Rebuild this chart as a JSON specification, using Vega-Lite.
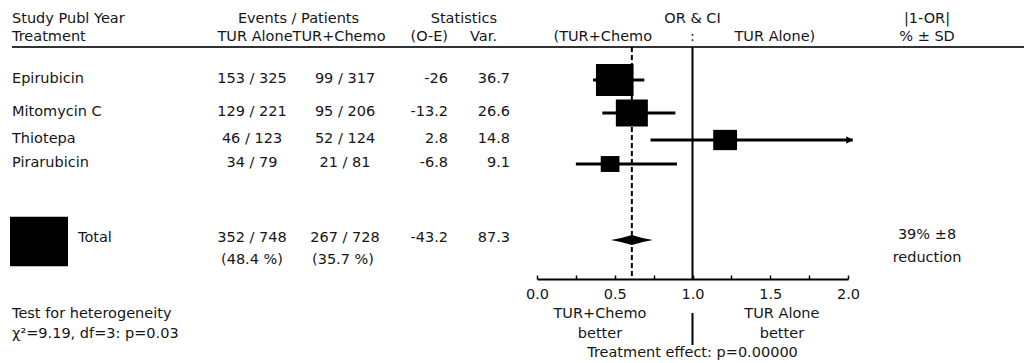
{
  "$schema": "https://vega.github.io/schema/vega-lite/v6.json",
  "width": 1024,
  "height": 363,
  "padding": 0,
  "autosize": {"type": "none"},
  "background": "#ffffff",
  "config": {
    "view": {"stroke": null},
    "text": {"font": "DejaVu Sans", "fontSize": 14.5, "fill": "#151515", "baseline": "middle"}
  },
  "data": {"values": [{}]},
  "datasets": {
    "studies": [
      {"row": 3, "study": "Epirubicin", "tur_alone": "153 / 325", "tur_chemo": "99 / 317", "oe": "-26", "var": 36.7, "or": 0.50, "lo": 0.36, "hi": 0.69},
      {"row": 4, "study": "Mitomycin C", "tur_alone": "129 / 221", "tur_chemo": "95 / 206", "oe": "-13.2", "var": 26.6, "or": 0.61, "lo": 0.42, "hi": 0.89},
      {"row": 5, "study": "Thiotepa", "tur_alone": "46 / 123", "tur_chemo": "52 / 124", "oe": "2.8", "var": 14.8, "or": 1.21, "lo": 0.73, "hi": 2.03},
      {"row": 6, "study": "Pirarubicin", "tur_alone": "34 / 79", "tur_chemo": "21 / 81", "oe": "-6.8", "var": 9.1, "or": 0.47, "lo": 0.25, "hi": 0.90}
    ],
    "total": [
      {"row": 7, "study": "Total", "tur_alone": "352 / 748", "tur_chemo": "267 / 728", "pct_alone": "(48.4 %)", "pct_chemo": "(35.7 %)", "oe": "-43.2", "var": 87.3, "or": 0.61, "lo": 0.49, "hi": 0.76, "reduction": "39% ±8"}
    ]
  },
  "resolve": {"scale": {"x": "independent"}},
  "layer": [
    {
      "layer": [
        {"data": {"name": "studies"}, "mark": {"type": "text", "align": "left", "dy": -1},
         "encoding": {"x": {"datum": 0, "scale": {"type": "linear", "domain": [0,1,2,3,4,5,6], "range": [12,252,345,448,510,927,1024], "zero": false, "nice": false}, "axis": null},
                      "y": {"field": "row", "type": "quantitative", "scale": {"type": "linear", "domain": [0,1,2,3,4,5,6,7,8,9,10,11,12,13], "range": [19,37,47,80,113,140,164,240,260,279,293,314,334,353], "zero": false, "nice": false}, "axis": null},
                      "text": {"field": "study", "type": "nominal"}}},
        {"data": {"name": "studies"}, "mark": {"type": "text", "align": "center", "dy": -1},
         "encoding": {"x": {"datum": 1, "axis": null}, "y": {"field": "row", "type": "quantitative", "axis": null}, "text": {"field": "tur_alone", "type": "nominal"}}},
        {"data": {"name": "studies"}, "mark": {"type": "text", "align": "center", "dy": -1},
         "encoding": {"x": {"datum": 2, "axis": null}, "y": {"field": "row", "type": "quantitative", "axis": null}, "text": {"field": "tur_chemo", "type": "nominal"}}},
        {"data": {"name": "studies"}, "mark": {"type": "text", "align": "right", "dy": -1},
         "encoding": {"x": {"datum": 3, "axis": null}, "y": {"field": "row", "type": "quantitative", "axis": null}, "text": {"field": "oe", "type": "nominal"}}},
        {"data": {"name": "studies"}, "mark": {"type": "text", "align": "right", "dy": -1},
         "encoding": {"x": {"datum": 4, "axis": null}, "y": {"field": "row", "type": "quantitative", "axis": null}, "text": {"field": "var", "type": "nominal"}}},

        {"data": {"name": "total"}, "mark": {"type": "point", "filled": true, "opacity": 1, "color": "#000000", "shape": "M-1,-0.85L1,-0.85L1,0.85L-1,0.85Z", "xOffset": 27, "yOffset": 1.5},
         "encoding": {"x": {"datum": 0, "axis": null}, "y": {"field": "row", "type": "quantitative", "axis": null},
                      "size": {"field": "var", "type": "quantitative", "scale": {"type": "linear", "domain": [0, 100], "range": [0, 3850], "zero": true}, "legend": null}}},
        {"data": {"name": "total"}, "mark": {"type": "text", "align": "left", "dx": 66, "dy": -2},
         "encoding": {"x": {"datum": 0, "axis": null}, "y": {"field": "row", "type": "quantitative", "axis": null}, "text": {"field": "study", "type": "nominal"}}},
        {"data": {"name": "total"}, "mark": {"type": "text", "align": "center", "dy": -2},
         "encoding": {"x": {"datum": 1, "axis": null}, "y": {"field": "row", "type": "quantitative", "axis": null}, "text": {"field": "tur_alone", "type": "nominal"}}},
        {"data": {"name": "total"}, "mark": {"type": "text", "align": "center", "dy": -2},
         "encoding": {"x": {"datum": 2, "axis": null}, "y": {"field": "row", "type": "quantitative", "axis": null}, "text": {"field": "tur_chemo", "type": "nominal"}}},
        {"data": {"name": "total"}, "mark": {"type": "text", "align": "right", "dy": -2},
         "encoding": {"x": {"datum": 3, "axis": null}, "y": {"field": "row", "type": "quantitative", "axis": null}, "text": {"field": "oe", "type": "nominal"}}},
        {"data": {"name": "total"}, "mark": {"type": "text", "align": "right", "dy": -2},
         "encoding": {"x": {"datum": 4, "axis": null}, "y": {"field": "row", "type": "quantitative", "axis": null}, "text": {"field": "var", "type": "nominal"}}},
        {"data": {"name": "total"}, "mark": {"type": "text", "align": "center"},
         "encoding": {"x": {"datum": 1, "axis": null}, "y": {"datum": 8, "axis": null}, "text": {"field": "pct_alone", "type": "nominal"}}},
        {"data": {"name": "total"}, "mark": {"type": "text", "align": "center", "dx": -2},
         "encoding": {"x": {"datum": 2, "axis": null}, "y": {"datum": 8, "axis": null}, "text": {"field": "pct_chemo", "type": "nominal"}}},
        {"data": {"name": "total"}, "mark": {"type": "text", "align": "center", "dy": -5},
         "encoding": {"x": {"datum": 5, "axis": null}, "y": {"field": "row", "type": "quantitative", "axis": null}, "text": {"field": "reduction", "type": "nominal"}}},
        {"mark": {"type": "text", "align": "center", "dy": -2, "text": "reduction"},
         "encoding": {"x": {"datum": 5, "axis": null}, "y": {"datum": 8, "axis": null}}},

        {"mark": {"type": "text", "align": "left", "text": "Study Publ Year"},
         "encoding": {"x": {"datum": 0, "axis": null}, "y": {"datum": 0, "axis": null}}},
        {"mark": {"type": "text", "align": "left", "text": "Treatment"},
         "encoding": {"x": {"datum": 0, "axis": null}, "y": {"datum": 1, "axis": null}}},
        {"mark": {"type": "text", "align": "center", "text": "Events / Patients"},
         "encoding": {"x": {"datum": 1.5, "axis": null}, "y": {"datum": 0, "axis": null}}},
        {"mark": {"type": "text", "align": "center", "dx": 3, "text": "TUR AloneTUR+Chemo"},
         "encoding": {"x": {"datum": 1.5, "axis": null}, "y": {"datum": 1, "axis": null}}},
        {"mark": {"type": "text", "align": "right", "dx": -13, "text": "Statistics"},
         "encoding": {"x": {"datum": 4, "axis": null}, "y": {"datum": 0, "axis": null}}},
        {"mark": {"type": "text", "align": "right", "text": "(O-E)"},
         "encoding": {"x": {"datum": 3, "axis": null}, "y": {"datum": 1, "axis": null}}},
        {"mark": {"type": "text", "align": "right", "dx": -13, "text": "Var."},
         "encoding": {"x": {"datum": 4, "axis": null}, "y": {"datum": 1, "axis": null}}},
        {"mark": {"type": "text", "align": "center", "text": "|1-OR|"},
         "encoding": {"x": {"datum": 5, "axis": null}, "y": {"datum": 0, "axis": null}}},
        {"mark": {"type": "text", "align": "center", "text": "% ± SD"},
         "encoding": {"x": {"datum": 5, "axis": null}, "y": {"datum": 1, "axis": null}}},
        {"mark": {"type": "rule", "color": "#333333", "strokeWidth": 1.8},
         "encoding": {"x": {"datum": 0, "axis": null}, "x2": {"datum": 6}, "y": {"datum": 2, "axis": null}}},
        {"mark": {"type": "text", "align": "left", "text": "Test for heterogeneity"},
         "encoding": {"x": {"datum": 0, "axis": null}, "y": {"datum": 11, "axis": null}}},
        {"mark": {"type": "text", "align": "left", "text": "χ²=9.19, df=3: p=0.03"},
         "encoding": {"x": {"datum": 0, "axis": null}, "y": {"datum": 12, "axis": null}}}
      ]
    },
    {
      "layer": [
        {"data": {"name": "studies"}, "mark": {"type": "rule", "color": "#000000", "strokeWidth": 3},
         "encoding": {"x": {"field": "lo", "type": "quantitative", "title": null,
                            "scale": {"type": "linear", "domain": [0, 2], "range": [537, 848], "zero": false, "nice": false},
                            "axis": {"values": [0, 0.25, 0.5, 0.75, 1, 1.25, 1.5, 1.75, 2], "labelExpr": "datum.value % 0.5 === 0 ? format(datum.value, '.1f') : ''",
                                     "offset": -84, "domainColor": "#000000", "domainWidth": 2, "tickColor": "#000000", "tickWidth": 1.5, "tickSize": -4,
                                     "labelPadding": 12, "labelFont": "DejaVu Sans", "labelFontSize": 14.5, "labelColor": "#151515", "grid": false, "title": null,
                                     "labelFlush": false, "labelOverlap": false}},
                      "x2": {"field": "hi"},
                      "y": {"field": "row", "type": "quantitative", "axis": null}}},
        {"mark": {"type": "rule", "color": "#000000", "strokeWidth": 2},
         "encoding": {"x": {"datum": 1, "title": null}, "y": {"datum": 2, "axis": null}, "y2": {"datum": 9}}},
        {"data": {"name": "total"}, "mark": {"type": "rule", "color": "#000000", "strokeWidth": 2, "strokeDash": [5, 3]},
         "encoding": {"x": {"field": "or", "type": "quantitative", "title": null}, "y": {"datum": 2, "axis": null}, "y2": {"datum": 9}}},
        {"data": {"name": "studies"}, "mark": {"type": "point", "filled": true, "opacity": 1, "color": "#000000", "shape": "M-1,-0.85L1,-0.85L1,0.85L-1,0.85Z"},
         "encoding": {"x": {"field": "or", "type": "quantitative", "title": null}, "y": {"field": "row", "type": "quantitative", "axis": null},
                      "size": {"field": "var", "type": "quantitative", "scale": {"type": "linear", "domain": [0, 100], "range": [0, 3850], "zero": true}, "legend": null}}},
        {"data": {"name": "studies"}, "transform": [{"filter": "datum.hi > 2"}],
         "mark": {"type": "point", "filled": true, "opacity": 1, "color": "#000000", "shape": "triangle-right", "size": 60, "xOffset": -3},
         "encoding": {"x": {"field": "hi", "type": "quantitative", "title": null}, "y": {"field": "row", "type": "quantitative", "axis": null}}},
        {"data": {"name": "total"}, "mark": {"type": "point", "filled": true, "opacity": 1, "color": "#000000", "size": 1764,
                                             "shape": "M-1,0Q-0.45,-0.09,0,-0.24Q0.45,-0.09,1,0Q0.45,0.09,0,0.24Q-0.45,0.09,-1,0Z"},
         "encoding": {"x": {"field": "or", "type": "quantitative", "title": null}, "y": {"field": "row", "type": "quantitative", "axis": null}}},
        {"mark": {"type": "text", "align": "center", "text": "OR & CI"},
         "encoding": {"x": {"datum": 1, "title": null}, "y": {"datum": 0, "axis": null}}},
        {"mark": {"type": "text", "align": "right", "text": "(TUR+Chemo"},
         "encoding": {"x": {"datum": 0.74, "title": null}, "y": {"datum": 1, "axis": null}}},
        {"mark": {"type": "text", "align": "center", "text": ":"},
         "encoding": {"x": {"datum": 1, "title": null}, "y": {"datum": 1, "axis": null}}},
        {"mark": {"type": "text", "align": "left", "text": "TUR Alone)"},
         "encoding": {"x": {"datum": 1.27, "title": null}, "y": {"datum": 1, "axis": null}}},
        {"mark": {"type": "text", "align": "center", "text": "TUR+Chemo"},
         "encoding": {"x": {"datum": 0.405, "title": null}, "y": {"datum": 11, "axis": null}}},
        {"mark": {"type": "text", "align": "center", "text": "better"},
         "encoding": {"x": {"datum": 0.405, "title": null}, "y": {"datum": 12, "axis": null}}},
        {"mark": {"type": "text", "align": "center", "text": "TUR Alone"},
         "encoding": {"x": {"datum": 1.575, "title": null}, "y": {"datum": 11, "axis": null}}},
        {"mark": {"type": "text", "align": "center", "text": "better"},
         "encoding": {"x": {"datum": 1.575, "title": null}, "y": {"datum": 12, "axis": null}}},
        {"mark": {"type": "text", "align": "center", "text": "Treatment effect: p=0.00000"},
         "encoding": {"x": {"datum": 1, "title": null}, "y": {"datum": 13, "axis": null}}},
        {"mark": {"type": "rule", "color": "#000000", "strokeWidth": 2},
         "encoding": {"x": {"datum": 1, "title": null}, "y": {"datum": 10.95, "axis": null}, "y2": {"datum": 12.58}}}
      ]
    }
  ]
}
